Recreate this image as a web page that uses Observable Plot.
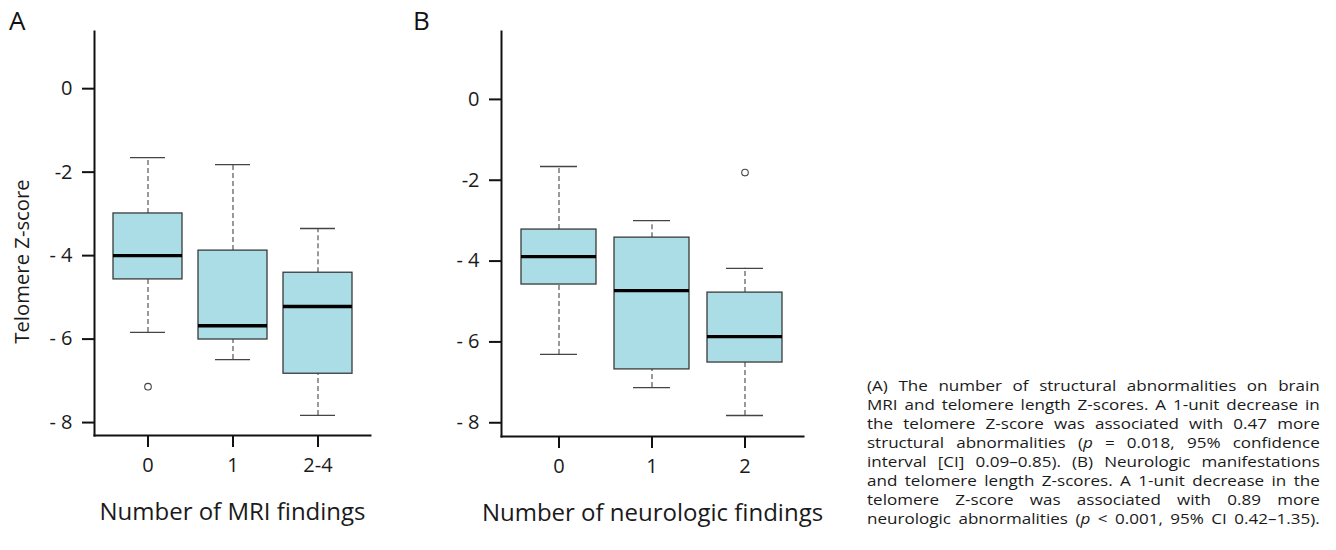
<!DOCTYPE html>
<html>
<head>
<meta charset="utf-8">
<script src="https://cdn.jsdelivr.net/npm/d3@7"></script>
<script src="https://cdn.jsdelivr.net/npm/@observablehq/plot@0.6"></script>
<style>
  html, body { margin: 0; padding: 0; background: #fff; }
  #root { position: relative; width: 1336px; height: 550px; overflow: hidden; font-family: "Open Sans", sans-serif; color: #1a1a1a; }
  .panel { position: absolute; top: 0; }
  .letter { position: absolute; font-size: 26px; line-height: 26px; font-family: "Open Sans", sans-serif; color: #111; }
  #caption { position: absolute; left: 867px; top: 376px; width: 369px; font-size: 13.9px; line-height: 19px; color: #1a1a1a;
             transform: scaleX(1.227); transform-origin: 0 0; }
  #caption div { text-align: justify; text-align-last: justify; white-space: nowrap; height: 19px; }
  .panel svg [aria-label="frame"] { stroke-width: 2; stroke: #111; }
  .panel svg [aria-label="y-axis tick"], .panel svg [aria-label="x-axis tick"] { stroke-width: 2; stroke: #111; }
</style>
</head>
<body>
<div id="root">
  <div class="letter" style="left:9px; top:7px;">A</div>
  <div class="letter" style="left:413px; top:7px;">B</div>
  <div id="panelA" class="panel" style="left:0px;"></div>
  <div id="panelB" class="panel" style="left:410px;"></div>
  <div id="caption"></div>
</div>
<script>
// ---- Data: Panel A (Number of MRI findings) ----
const groupsA = ["0", "1", "2-4"];
const whiskerLowA  = [-5.84, -6.49, -7.83];
const q1A          = [-4.57, -6.01, -6.83];
const medianA      = [-4.00, -5.68, -5.22];
const q3A          = [-2.99, -3.88, -4.41];
const whiskerHighA = [-1.65, -1.82, -3.35];
const outlierGroupsA = ["0"];
const outlierValuesA = [-7.14];

// ---- Data: Panel B (Number of neurologic findings) ----
const groupsB = ["0", "1", "2"];
const whiskerLowB  = [-6.31, -7.13, -7.82];
const q1B          = [-4.58, -6.68, -6.51];
const medianB      = [-3.89, -4.73, -5.87];
const q3B          = [-3.22, -3.42, -4.78];
const whiskerHighB = [-1.66, -3.00, -4.18];
const outlierGroupsB = ["2"];
const outlierValuesB = [-1.81];

// ---- Tick labels ----
const yTicks = [-8, -6, -4, -2, 0];
const yTickLabels = ["- 8", "- 6", "- 4", "-2", "0"];

// ---- Text ----
const yTitle = "Telomere Z-score";
const xTitleA = "Number of MRI findings";
const xTitleB = "Number of neurologic findings";
const captionLines = [
  "(A) The number of structural abnormalities on brain",
  "MRI and telomere length Z-scores. A 1-unit decrease in",
  "the telomere Z-score was associated with 0.47 more",
  "structural abnormalities (<i>p</i> = 0.018, 95% confidence",
  "interval [CI] 0.09–0.85). (B) Neurologic manifestations",
  "and telomere length Z-scores. A 1-unit decrease in the",
  "telomere Z-score was associated with 0.89 more",
  "neurologic abnormalities (<i>p</i> &lt; 0.001, 95% CI 0.42–1.35)."
];

function table(groups, lo, q1, med, q3, hi) {
  return groups.map((g, i) => ({g, lo: lo[i], q1: q1[i], med: med[i], q3: q3[i], hi: hi[i]}));
}

function panel({groups, data, outliers, yDomain, width, marginLeft, marginRight, marginTop, marginBottom, capInset, xTitle, showYTitle, yTitleDy}) {
  const font = "Open Sans";
  const marks = [
    Plot.ruleX(data, {x: "g", y1: "lo", y2: "q1", stroke: "#555", strokeWidth: 1.2, strokeDasharray: "5,3"}),
    Plot.ruleX(data, {x: "g", y1: "q3", y2: "hi", stroke: "#555", strokeWidth: 1.2, strokeDasharray: "5,3"}),
    Plot.barY(data, {x: "g", y1: "q1", y2: "q3", fill: "#abdde7", stroke: "#3a3a3a", strokeWidth: 1.3}),
    Plot.tickY(data, {x: "g", y: "med", stroke: "#000", strokeWidth: 3.4}),
    Plot.tickY(data, {x: "g", y: "lo", stroke: "#444", strokeWidth: 1.3, insetLeft: capInset, insetRight: capInset}),
    Plot.tickY(data, {x: "g", y: "hi", stroke: "#444", strokeWidth: 1.3, insetLeft: capInset, insetRight: capInset}),
    Plot.dot(outliers, {x: "g", y: "v", r: 3.3, stroke: "#444", fill: "white", strokeWidth: 1.1}),
    Plot.text([xTitle], {text: d => d, frameAnchor: "bottom", dy: 77, fontSize: 24, fontFamily: font, fill: "#1a1a1a", lineAnchor: "middle", textAnchor: "middle"})
  ];
  if (showYTitle) {
    marks.push(Plot.text([yTitle], {text: d => d, frameAnchor: "left", dx: -72, dy: yTitleDy, rotate: -90, fontSize: 20.3, fontFamily: font, fill: "#1a1a1a", lineAnchor: "middle", textAnchor: "middle"}));
  }
  return Plot.plot({
    width, height: 550,
    marginLeft, marginRight, marginTop, marginBottom,
    style: {fontFamily: font, fontSize: "20px", color: "#1a1a1a", background: "transparent", overflow: "visible"},
    x: {domain: groups, paddingInner: 0.193, paddingOuter: 0.21, line: true, tickSize: 12, tickPadding: 10, label: null},
    y: {domain: yDomain, ticks: yTicks, tickFormat: d => yTickLabels[yTicks.indexOf(d)], line: true, tickSize: 12, tickPadding: 10, label: null},
    marks
  });
}

const dataA = table(groupsA, whiskerLowA, q1A, medianA, q3A, whiskerHighA);
const outA = outlierGroupsA.map((g, i) => ({g, v: outlierValuesA[i]}));
const dataB = table(groupsB, whiskerLowB, q1B, medianB, q3B, whiskerHighB);
const outB = outlierGroupsB.map((g, i) => ({g, v: outlierValuesB[i]}));

document.getElementById("panelA").append(panel({
  groups: groupsA, data: dataA, outliers: outA,
  yDomain: [-8.31, 1.37], width: 400, marginLeft: 94, marginRight: 30, marginTop: 31, marginBottom: 115,
  capInset: 17, xTitle: xTitleA, showYTitle: true, yTitleDy: 28
}));
document.getElementById("panelB").append(panel({
  groups: groupsB, data: dataB, outliers: outB,
  yDomain: [-8.34, 1.68], width: 420, marginLeft: 91, marginRight: 27, marginTop: 31, marginBottom: 114,
  capInset: 19, xTitle: xTitleB, showYTitle: false, yTitleDy: 0
}));

const cap = document.getElementById("caption");
for (const line of captionLines) {
  const d = document.createElement("div");
  d.innerHTML = line;
  cap.append(d);
}
// tighten any line that would overflow the column width
for (const d of cap.children) {
  let ls = 0;
  while (d.scrollWidth > 369 && ls > -1.5) { ls -= 0.05; d.style.letterSpacing = ls + "px"; }
}
</script>
</body>
</html>
